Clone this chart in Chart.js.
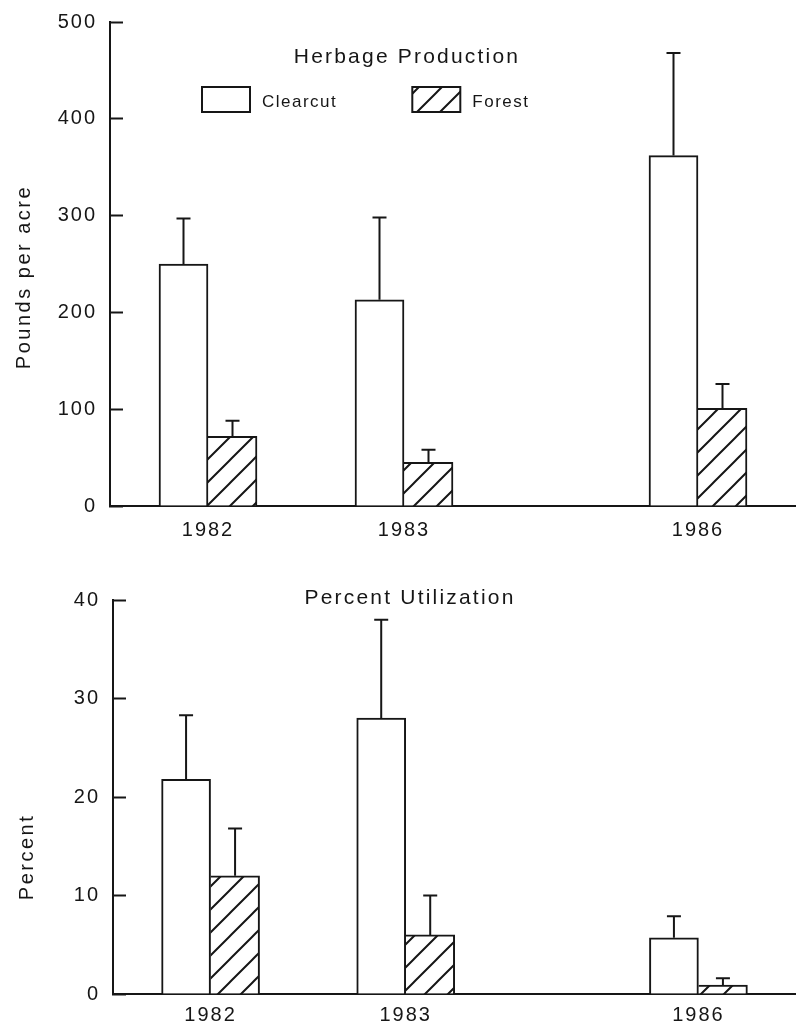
<!DOCTYPE html>
<html>
<head>
<meta charset="utf-8">
<script src="https://cdn.jsdelivr.net/npm/chart.js@4.4.1/dist/chart.umd.min.js"></script>
<style>
  html, body { margin: 0; padding: 0; background: #fff; }
  canvas { display: block; }
</style>
</head>
<body>
<canvas id="herbChart" width="796" height="545"></canvas>
<canvas id="utilChart" width="796" height="482"></canvas>
<script>
// x categories: blank slots keep the gaps for years that were not sampled
const yearLabels = ['', '1982', '', '1983', '', '', '1986', ''];

// Herbage production, pounds per acre (mean and standard error)
const herbClearcut   = [null, 250, null, 213, null, null, 362, null];
const herbClearcutSE = [null,  47, null,  85, null, null, 106, null];
const herbForest     = [null,  72, null,  45, null, null, 101, null];
const herbForestSE   = [null,  16, null,  13, null, null,  25, null];

// Percent utilization (mean and standard error)
const utilClearcut   = [null, 21.8, null, 28.0, null, null, 5.7, null];
const utilClearcutSE = [null,  6.5, null, 10.0, null, null, 2.2, null];
const utilForest     = [null, 12.0, null,  6.0, null, null, 0.9, null];
const utilForestSE   = [null,  4.8, null,  4.0, null, null, 0.7, null];

// y axis ticks
const herbTicks = [0, 100, 200, 300, 400, 500];
const utilTicks = [0, 10, 20, 30, 40];

const INK = '#161616';
Chart.defaults.font.family = '"Liberation Sans", Arial, sans-serif';
Chart.defaults.color = INK;

// diagonal hatch for the Forest bars
function makeHatch() {
  const size = 23;
  const c = document.createElement('canvas');
  c.width = size;
  c.height = size;
  const g = c.getContext('2d');
  g.fillStyle = '#fff';
  g.fillRect(0, 0, size, size);
  g.strokeStyle = INK;
  g.lineWidth = 2;
  g.beginPath();
  g.moveTo(-2, size + 2); g.lineTo(size + 2, -2);
  g.moveTo(-2, 2); g.lineTo(2, -2);
  g.moveTo(size - 2, size + 2); g.lineTo(size + 2, size - 2);
  g.stroke();
  return g.createPattern(c, 'repeat');
}
const hatch = makeHatch();

// upper error bars (mean + SE) on every bar
const errorBars = {
  id: 'errorBars',
  afterDatasetsDraw(chart) {
    const ctx = chart.ctx;
    const yScale = chart.scales.y;
    ctx.save();
    ctx.strokeStyle = INK;
    ctx.lineWidth = 2;
    chart.data.datasets.forEach((ds, i) => {
      const meta = chart.getDatasetMeta(i);
      meta.data.forEach((bar, j) => {
        const v = ds.data[j];
        const se = ds.se[j];
        if (v == null || se == null) return;
        const yTop = yScale.getPixelForValue(v + se);
        ctx.beginPath();
        ctx.moveTo(bar.x, bar.y);
        ctx.lineTo(bar.x, yTop);
        ctx.moveTo(bar.x - 7, yTop);
        ctx.lineTo(bar.x + 7, yTop);
        ctx.stroke();
      });
    });
    ctx.restore();
  }
};

// panel title, y axis title and the legend, drawn inside the plot
const panelText = {
  id: 'panelText',
  beforeUpdate(chart) { chart.ctx.letterSpacing = '2px'; },
  beforeDraw(chart) { chart.ctx.letterSpacing = '2px'; },
  afterDraw(chart, args, opts) {
    const ctx = chart.ctx;
    ctx.save();
    ctx.fillStyle = INK;
    ctx.textBaseline = 'alphabetic';

    ctx.font = '21px "Liberation Sans", Arial, sans-serif';
    ctx.letterSpacing = '2.2px';
    ctx.textAlign = 'center';
    ctx.fillText(opts.title, opts.titleX, opts.titleY);

    ctx.save();
    ctx.translate(opts.yLabelX, opts.yLabelY);
    ctx.rotate(-Math.PI / 2);
    ctx.font = '20px "Liberation Sans", Arial, sans-serif';
    ctx.letterSpacing = '2.5px';
    ctx.fillText(opts.yLabel, 0, 0);
    ctx.restore();

    if (opts.legend) {
      const lg = opts.legend;
      ctx.font = '17px "Liberation Sans", Arial, sans-serif';
      ctx.letterSpacing = '1.5px';
      ctx.textAlign = 'left';
      let x = lg.x;
      chart.data.datasets.forEach(ds => {
        ctx.fillStyle = ds.backgroundColor;
        ctx.fillRect(x, lg.y, lg.boxW, lg.boxH);
        ctx.strokeStyle = INK;
        ctx.lineWidth = 2;
        ctx.strokeRect(x, lg.y, lg.boxW, lg.boxH);
        ctx.fillStyle = INK;
        const tx = x + lg.boxW + 12;
        ctx.fillText(ds.label, tx, lg.textY);
        x = tx + ctx.measureText(ds.label).width + lg.gap;
      });
    }
    ctx.restore();
  }
};

function makeChart(canvasId, clear, clearSE, forest, forestSE, tickVals, frame, text) {
  return new Chart(document.getElementById(canvasId), {
    type: 'bar',
    data: {
      labels: yearLabels,
      datasets: [
        {
          label: 'Clearcut',
          data: clear,
          se: clearSE,
          backgroundColor: '#fff',
          borderColor: INK,
          borderWidth: { left: 2, top: 2, right: 2, bottom: 0 },
          barThickness: 49
        },
        {
          label: 'Forest',
          data: forest,
          se: forestSE,
          backgroundColor: hatch,
          borderColor: INK,
          borderWidth: { left: 0, top: 2, right: 2, bottom: 0 },
          barThickness: 49
        }
      ]
    },
    options: {
      responsive: false,
      animation: false,
      layout: { padding: { top: frame.top, left: 0, right: 0, bottom: 0 } },
      scales: {
        x: {
          offset: false,
          grid: { display: true, drawOnChartArea: false, drawTicks: false },
          border: { color: INK, width: 2 },
          ticks: { autoSkip: false, maxRotation: 0, padding: frame.labelPad, color: INK, font: { size: 20 } },
          afterFit: s => {
            s.height = frame.xHeight;
            s.paddingLeft = 0;
            s.paddingRight = 0;
          }
        },
        y: {
          min: tickVals[0],
          max: tickVals[tickVals.length - 1],
          grid: { drawOnChartArea: false, tickLength: -13, tickWidth: 2, color: INK },
          border: { color: INK, width: 2 },
          ticks: { stepSize: tickVals[1] - tickVals[0], padding: 26, color: INK, font: { size: 20 } },
          afterFit: s => {
            s.width = frame.yWidth;
            s.paddingTop = 0;
            s.paddingBottom = 0;
          }
        }
      },
      plugins: {
        legend: { display: false },
        tooltip: { enabled: false },
        panelText: text
      }
    },
    plugins: [errorBars, panelText]
  });
}

makeChart('herbChart', herbClearcut, herbClearcutSE, herbForest, herbForestSE, herbTicks,
  { top: 22, yWidth: 110, xHeight: 39, labelPad: 12 },
  {
    title: 'Herbage Production', titleX: 407, titleY: 63,
    yLabel: 'Pounds per acre', yLabelX: 30, yLabelY: 277,
    legend: { x: 202, y: 87, boxW: 48, boxH: 25, textY: 107, gap: 75 }
  });

makeChart('utilChart', utilClearcut, utilClearcutSE, utilForest, utilForestSE, utilTicks,
  { top: 55, yWidth: 113, xHeight: 33, labelPad: 9 },
  {
    title: 'Percent Utilization', titleX: 410, titleY: 59,
    yLabel: 'Percent', yLabelX: 33, yLabelY: 312
  });
</script>
</body>
</html>
